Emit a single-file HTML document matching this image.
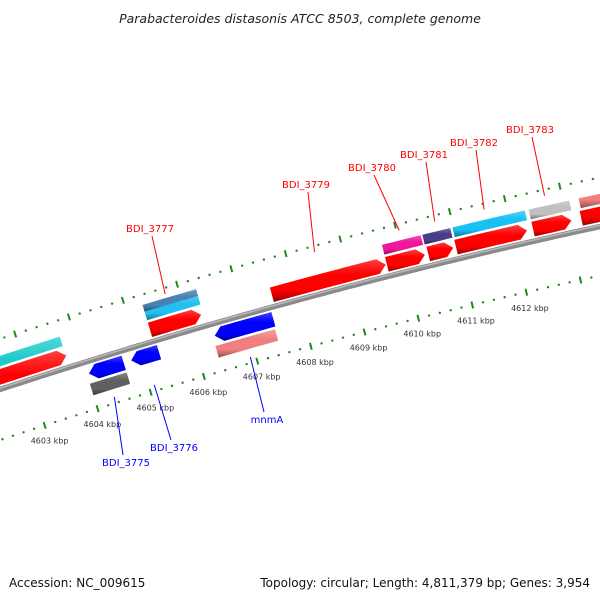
<!DOCTYPE html>
<html><head><meta charset="utf-8"><style>
html,body{margin:0;padding:0;background:#fff;}
svg{display:block;font-family:"DejaVu Sans","Liberation Sans",sans-serif;}
</style></head><body>
<svg id="map" width="600" height="600" viewBox="0 0 600 600" xmlns="http://www.w3.org/2000/svg">
<text x="300" y="23" text-anchor="middle" font-size="12.5" font-style="italic" fill="#222">Parabacteroides distasonis ATCC 8503, complete genome</text>
<text x="9" y="587" font-size="12" fill="#111">Accession: NC_009615</text>
<text x="590" y="587" text-anchor="end" font-size="12" fill="#111">Topology: circular; Length: 4,811,379 bp; Genes: 3,954</text>
<g id="layer"></g>
</svg>
<script>
// gene data (kbp)
const geneStart = [4600.5, 4605.31, 4607.57, 4609.69, 4610.45, 4610.96, 4612.37, 4613.25, 4600.5, 4605.31, 4605.31, 4609.69, 4610.43, 4610.98, 4612.37, 4613.28, 4604.04, 4604.83, 4606.39, 4604.0, 4606.35];
const geneEnd   = [4603.75, 4606.26, 4609.67, 4610.39, 4610.91, 4612.26, 4613.07, 4615.0, 4603.74, 4606.3, 4606.3, 4610.4, 4610.94, 4612.3, 4613.11, 4615.0, 4604.69, 4605.35, 4607.48, 4604.69, 4607.46];
const geneRow   = [1, 1, 1, 1, 1, 1, 1, 1, 2, 2, 3, 2, 2, 2, 2, 2, -1, -1, -1, -2, -2];
const geneColor = ["#ff0000","#ff0000","#ff0000","#ff0000","#ff0000","#ff0000","#ff0000","#ff0000","#1ecaca","#22c0f0","#4682b4","#f0189a","#483d8b","#18c0f4","#c0c0c0","#f08080","#0000ff","#0000ff","#0000ff","#606060","#f08080"];
const tickKbp = [4603, 4604, 4605, 4606, 4607, 4608, 4609, 4610, 4611, 4612];
const labelNames = ["BDI_3777","BDI_3779","BDI_3780","BDI_3781","BDI_3782","BDI_3783","BDI_3775","BDI_3776","mnmA"];
const labelKbp = [4605.75, 4608.5, 4610.05, 4610.7, 4611.6, 4612.7, 4604.35, 4605.1, 4606.9];
const labelSide = [1,1,1,1,1,1,-1,-1,-1];
const labelTextX = [150, 306, 372, 424, 474, 530, 126, 174, 267];
const labelTextY = [232, 188, 171, 158, 146, 133, 466, 451, 423];

const NS = "http://www.w3.org/2000/svg";
const layer = document.getElementById('layer');
const CX = 1843, CY = 5989, R0 = 5895, PXK = 56;
const phiA = Math.atan2(360 - CY, 257 - CX);
function pt(kbp, dr) {
  const a = phiA + (kbp - 4607) * PXK / R0;
  const R = R0 + dr;
  return [CX + R * Math.cos(a), CY + R * Math.sin(a)];
}
function mk(tag, attrs) { const e = document.createElementNS(NS, tag); for (const k in attrs) e.setAttribute(k, attrs[k]); return e; }
function shade(hex, f) {
  let n = parseInt(hex.slice(1), 16); let r = n >> 16, g = (n >> 8) & 255, b = n & 255;
  if (f > 0) { r += (255 - r) * f; g += (255 - g) * f; b += (255 - b) * f; } else { r *= 1 + f; g *= 1 + f; b *= 1 + f; }
  return "rgb(" + Math.round(r) + "," + Math.round(g) + "," + Math.round(b) + ")";
}
const defs = mk('defs', {}); document.getElementById('map').appendChild(defs);

// backbone
let bb = [], bbh = [];
for (let k = 4600; k <= 4616; k += 0.1) { bb.push(pt(k, 0).join(',')); bbh.push(pt(k, 1.2).join(',')); }
const back = mk('polyline', { points: bb.join(' '), fill: 'none', stroke: '#8a8a8a', 'stroke-width': 5.5 });


layer.appendChild(back);
const backH = mk('polyline', { points: bbh.join(' '), fill: 'none', stroke: '#b8b8b8', 'stroke-width': 1.5 });


layer.appendChild(backH);

// ticks
[48, -48].forEach(function (side) {
  for (let i = 0; i <= 80; i++) {
    const k = 4600 + i * 0.2;
    const major = Math.abs(k - Math.round(k)) < 0.01;
    let e;
    if (major) {
      const p1 = pt(k, side - 3.5), p2 = pt(k, side + 3.5);
      e = mk('line', { x1: p1[0], y1: p1[1], x2: p2[0], y2: p2[1], stroke: '#1e8a1e', 'stroke-width': 2 });
    } else {
      const p = pt(k, side);
      e = mk('circle', { cx: p[0], cy: p[1], r: 1.2, fill: '#1e8a1e' });
    }
    
    
    layer.appendChild(e);
  }
});
tickKbp.forEach(function (k) {
  const p = pt(k, -64);
  const t = mk('text', { x: p[0], y: p[1] + 3, 'text-anchor': 'middle', 'font-size': 8, fill: '#333' });
  t.textContent = k + ' kbp';
  
  
  layer.appendChild(t);
});

// genes
const rowR = { 1: [6, 18], 2: [22, 32], 3: [31, 38], '-1': [-18, -6], '-2': [-34, -22] };
geneStart.forEach(function (s, i) {
  const e = geneEnd[i], row = geneRow[i], col = geneColor[i];
  const rr = rowR[row]; const lo = rr[0], hi = rr[1], mid = (lo + hi) / 2;
  const arrow = (row === 1 || row === -1);
  const tip = 8 / PXK;
  let bs = s, be = e;
  if (arrow && row === 1) be = Math.max(s, e - tip);
  if (arrow && row === -1) bs = Math.min(e, s + tip);
  const pts = [];
  const n = Math.max(2, Math.ceil((be - bs) * 10));
  for (let j = 0; j <= n; j++) pts.push(pt(bs + (be - bs) * j / n, hi + (arrow ? 1.5 : 0)));
  if (arrow && row === 1) pts.push(pt(e, mid));
  for (let j = n; j >= 0; j--) pts.push(pt(bs + (be - bs) * j / n, lo - (arrow ? 1.5 : 0)));
  if (arrow && row === -1) pts.push(pt(s, mid));
  const gid = 'g' + i;
  const gr = mk('linearGradient', { id: gid, x1: 0, y1: 0, x2: 0, y2: 1 });
  gr.appendChild(mk('stop', { offset: '0', 'stop-color': shade(col, 0.25) }));
  gr.appendChild(mk('stop', { offset: '0.35', 'stop-color': col }));
  gr.appendChild(mk('stop', { offset: '0.72', 'stop-color': col }));
  gr.appendChild(mk('stop', { offset: '1', 'stop-color': shade(col, -0.4) }));
  defs.appendChild(gr);
  const poly = mk('polygon', { points: pts.map(function (p) { return p.join(','); }).join(' '), fill: 'url(#' + gid + ')' });
  
  
  layer.appendChild(poly);
});

// labels
labelNames.forEach(function (nm, i) {
  const side = labelSide[i];
  const a = pt(labelKbp[i], side > 0 ? 42 : -42);
  const tx = labelTextX[i], ty = labelTextY[i];
  const colr = side > 0 ? '#ff0000' : '#0000ff';
  const ly = side > 0 ? ty + 4 : ty - 11;
  const ln = mk('line', { x1: a[0], y1: a[1], x2: tx + (side > 0 ? 2 : -3), y2: ly, stroke: colr, 'stroke-width': 1 });
  
  
  layer.appendChild(ln);
  const t = mk('text', { x: tx, y: ty, 'text-anchor': 'middle', 'font-size': 10, fill: colr });
  t.textContent = nm;
  
  
  layer.appendChild(t);
});
</script>
</body></html>
